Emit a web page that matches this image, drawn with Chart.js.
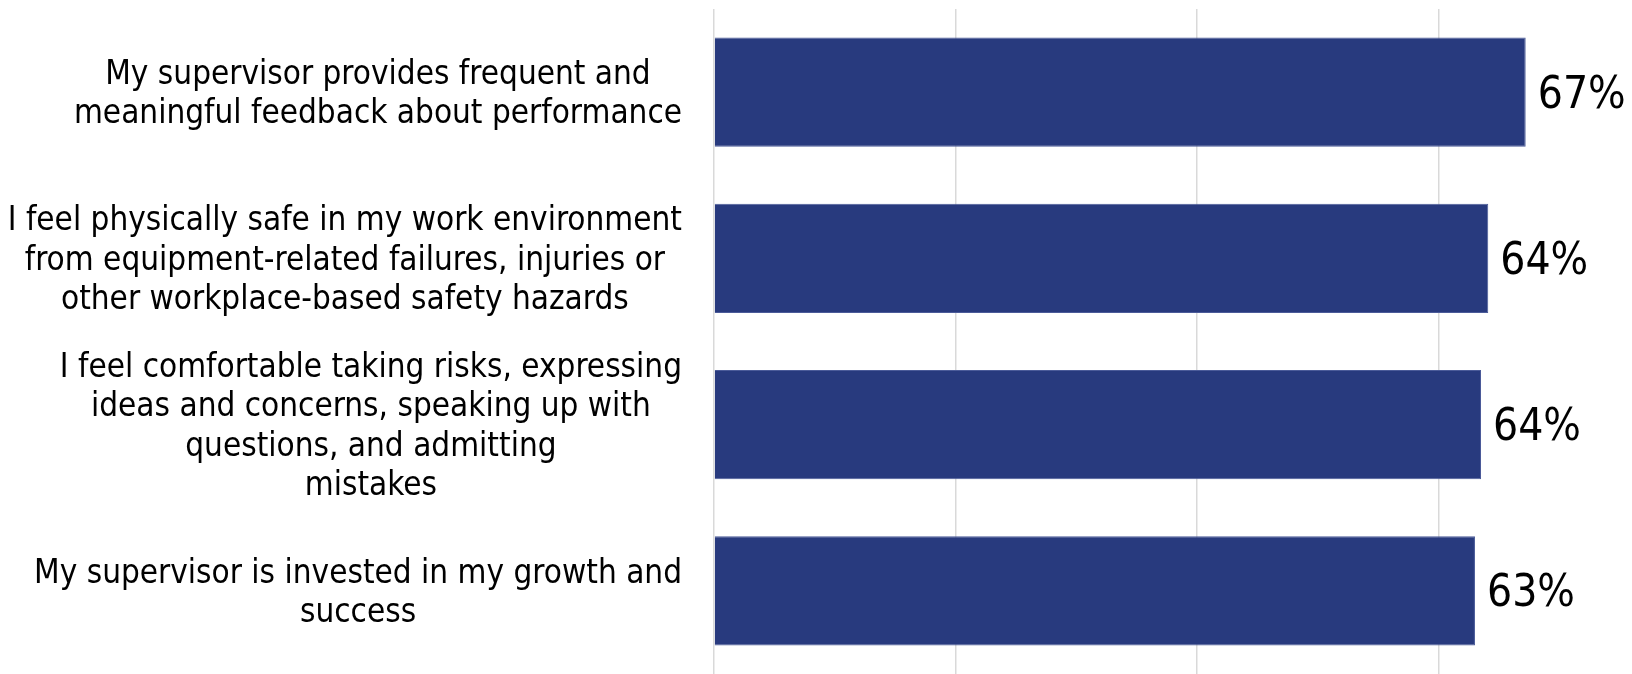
<!DOCTYPE html>
<html>
<head>
<meta charset="utf-8">
<script src="https://cdn.jsdelivr.net/npm/chart.js@4"></script>
<style>
  html, body { margin: 0; padding: 0; background: #fff; }
  #box { width: 1632px; height: 674px; }
</style>
</head>
<body>
<div id="box"><canvas id="grafico"></canvas></div>
<script>
// dados
const categorias = [
  ["My supervisor provides frequent and", "meaningful feedback about performance"],
  ["I feel physically safe in my work environment", "from equipment-related failures, injuries or", "other workplace-based safety hazards"],
  ["I feel comfortable taking risks, expressing", "ideas and concerns, speaking up with", "questions, and admitting", "mistakes"],
  ["My supervisor is invested in my growth and", "success"]
];
const valores = [67.2, 64.1, 63.5, 63.0];
const gradeTicks = [0, 20, 40, 60];

const FONTE = "'DejaVu Sans Condensed', 'Liberation Sans', sans-serif";
const AZUL = '#283A7E';

// rótulos das categorias: bloco alinhado à direita, linhas centralizadas
const rotulosCategorias = {
  id: 'rotulosCategorias',
  afterDraw(chart) {
    const c = chart.ctx;
    const y = chart.scales.y;
    const direita = 682;
    const alturaLinha = 39.5;
    c.save();
    c.font = '33px ' + FONTE;
    c.fillStyle = '#000';
    c.textAlign = 'center';
    c.textBaseline = 'middle';
    categorias.forEach((linhas, i) => {
      const largura = Math.max(...linhas.map(l => c.measureText(l).width));
      const cx = direita - largura / 2;
      const cy = y.getPixelForValue(i) + 3;
      linhas.forEach((l, j) => {
        c.fillText(l, cx, cy + (j - (linhas.length - 1) / 2) * alturaLinha);
      });
    });
    c.restore();
  }
};

// valores no fim das barras
const rotulosValores = {
  id: 'rotulosValores',
  afterDatasetsDraw(chart) {
    const c = chart.ctx;
    const meta = chart.getDatasetMeta(0);
    c.save();
    c.font = '44px ' + FONTE;
    c.fillStyle = '#000';
    c.textAlign = 'left';
    c.textBaseline = 'middle';
    meta.data.forEach((barra, i) => {
      c.fillText(Math.round(valores[i]) + '%', barra.x + 12, barra.y + 4);
    });
    c.restore();
  }
};

const ctx = document.getElementById('grafico').getContext('2d');
new Chart(ctx, {
  type: 'bar',
  data: {
    labels: categorias,
    datasets: [{
      data: valores,
      backgroundColor: AZUL,
      borderColor: '#4B5B99',
      borderWidth: 1,
      categoryPercentage: 1,
      barPercentage: 0.657
    }]
  },
  options: {
    indexAxis: 'y',
    responsive: true,
    maintainAspectRatio: false,
    animation: false,
    layout: { padding: { left: 714, top: 9, right: 0, bottom: 0 } },
    plugins: {
      legend: { display: false },
      tooltip: { enabled: false }
    },
    scales: {
      x: {
        min: 0,
        max: 76,
        ticks: { display: false, stepSize: 20 },
        border: { display: false },
        grid: {
          drawTicks: false,
          lineWidth: 1.5,
          color: c => gradeTicks.includes(c.tick && c.tick.value) ? '#D9D9D9' : 'rgba(0,0,0,0)'
        }
      },
      y: { display: false }
    }
  },
  plugins: [rotulosCategorias, rotulosValores]
});
</script>
</body>
</html>
